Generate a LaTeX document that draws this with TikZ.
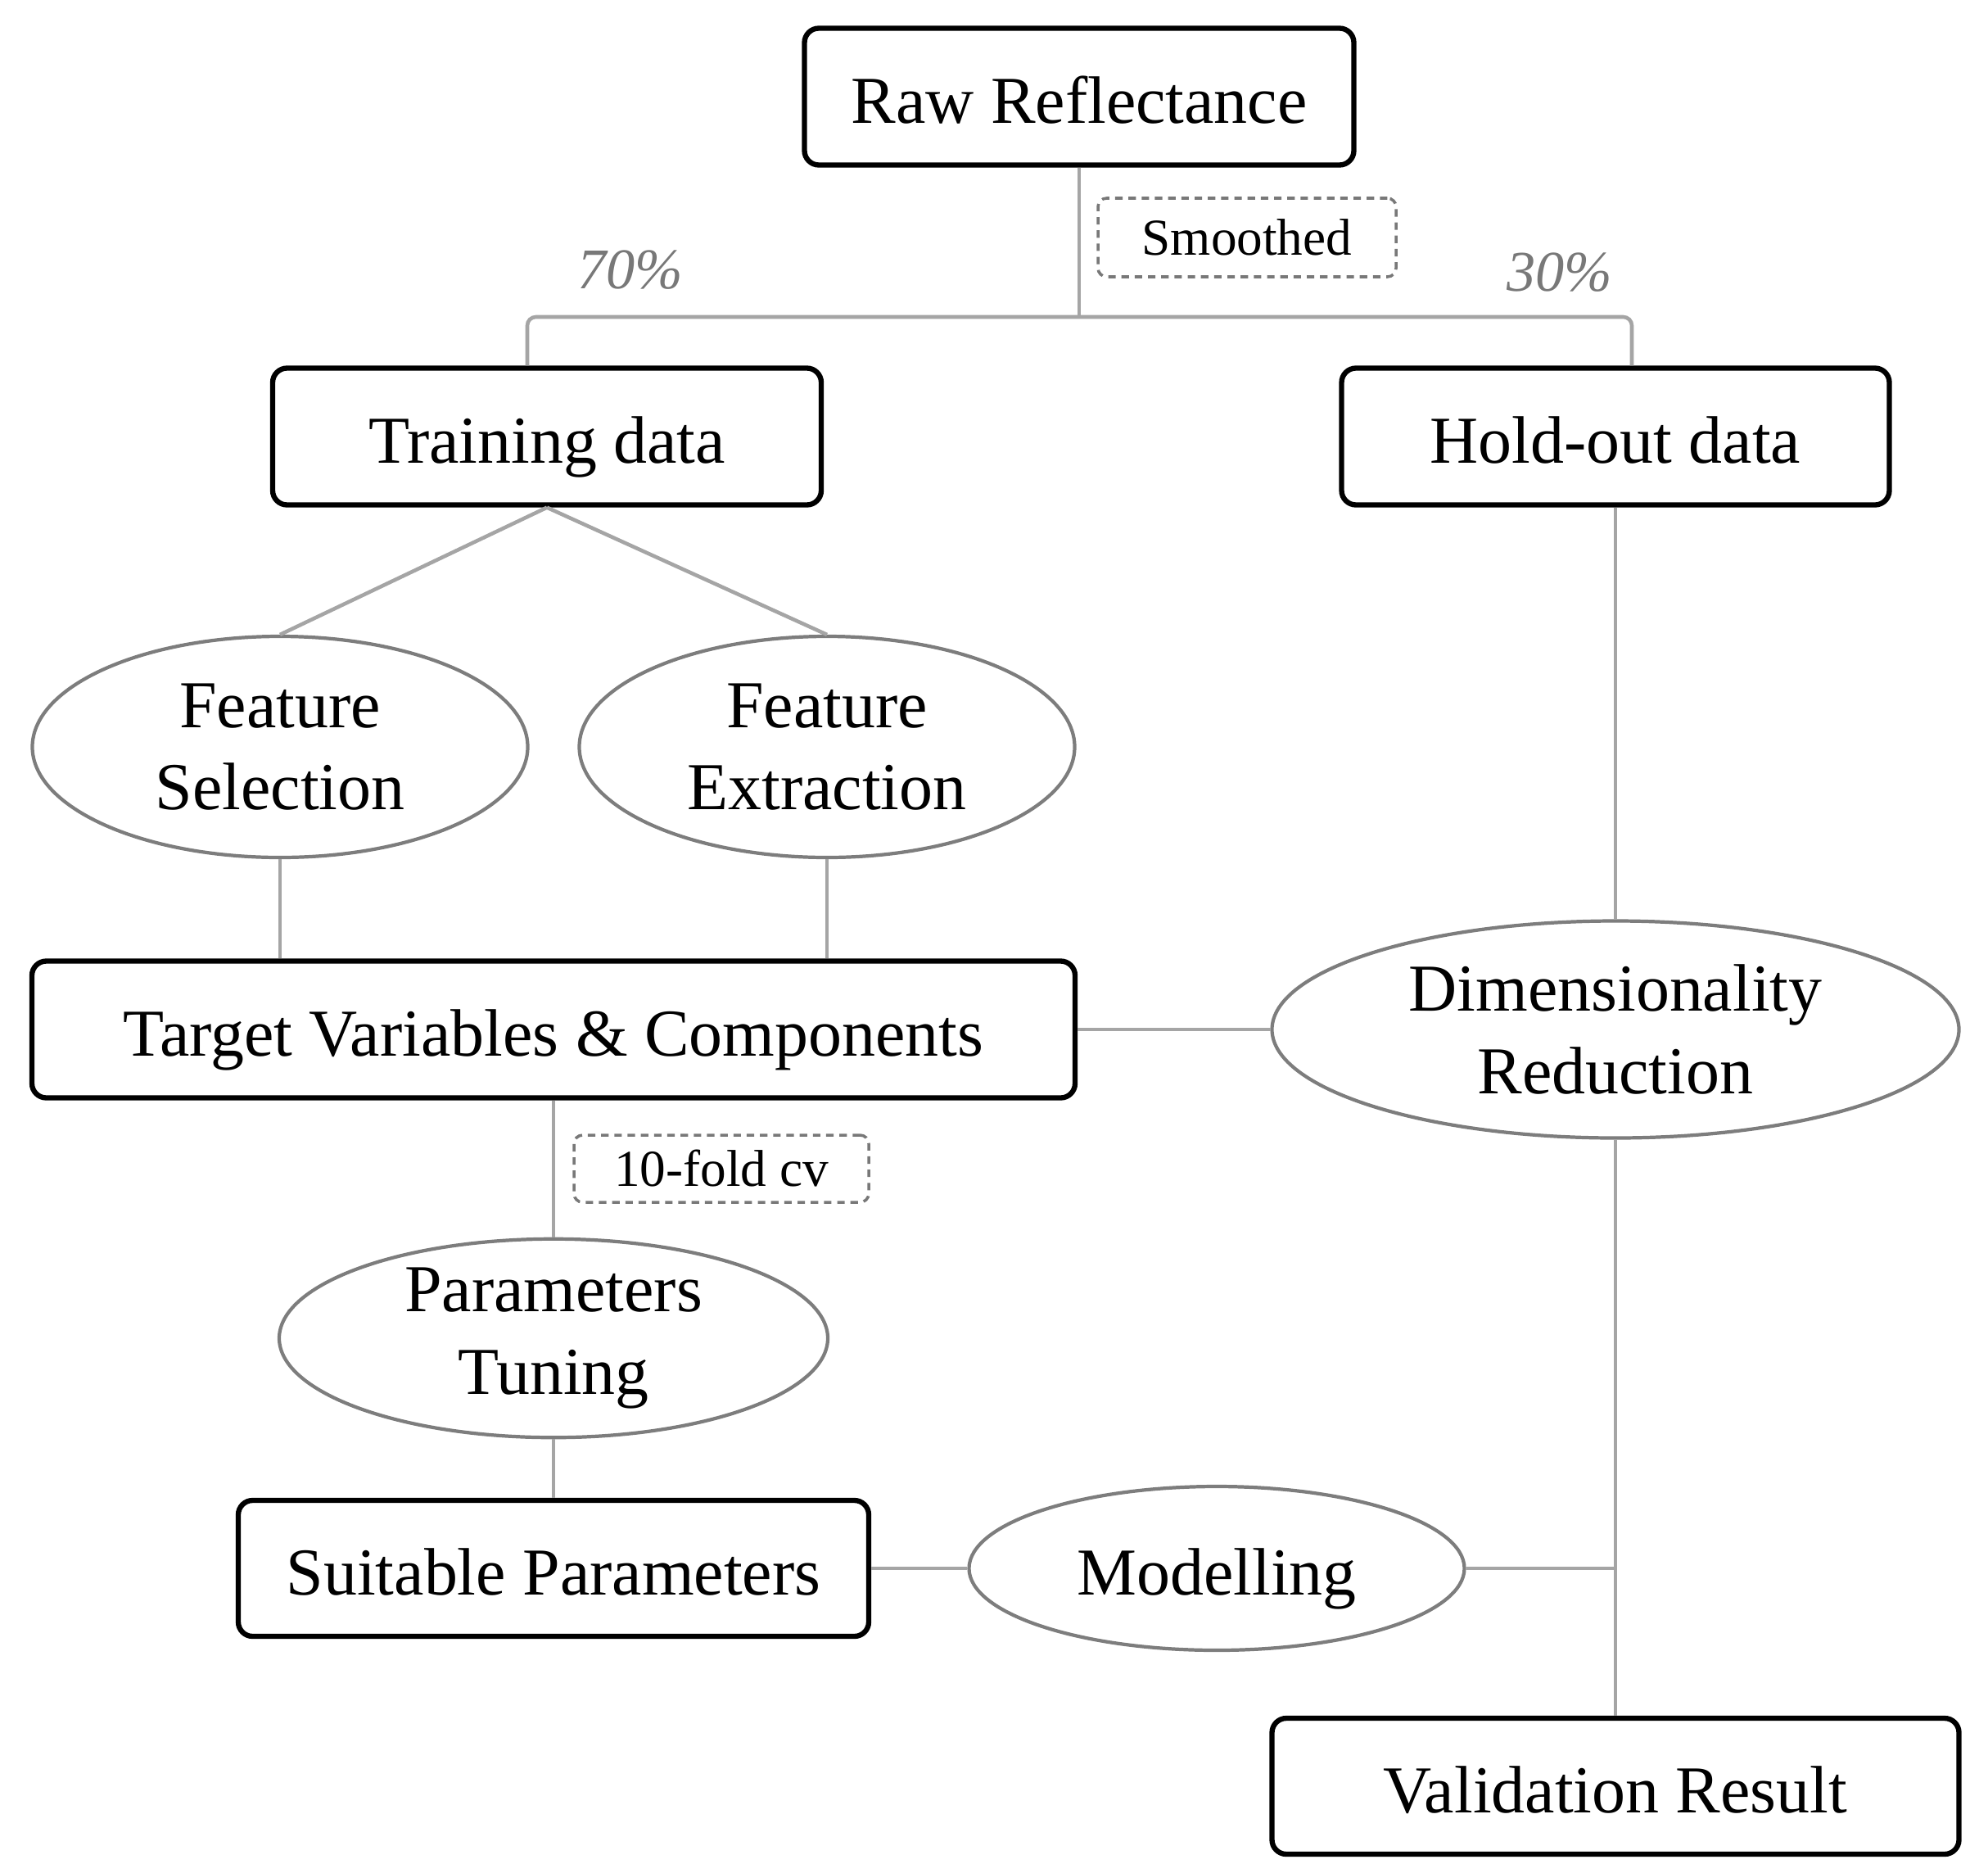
\documentclass[tikz,border=0pt]{standalone}
\usepackage{fontspec}
\setmainfont{Liberation Serif}
\usetikzlibrary{shapes.geometric,calc}
\definecolor{linegray}{RGB}{165,165,165}
\definecolor{ovalgray}{RGB}{125,125,125}
\definecolor{dashgray}{RGB}{120,120,120}

\begin{document}
\begin{tikzpicture}[
	box/.style={draw=black,line width=1.8pt,rounded corners=5pt,minimum height=1.67cm,inner sep=0pt,text height=22pt,text depth=3.4pt,font=\fontsize{23.3}{28.5}\selectfont},
	oval/.style={draw=ovalgray,ellipse,line width=1.2pt,inner sep=0pt,align=center,font=\fontsize{23.3}{28.5}\selectfont},
	note/.style={draw=dashgray,line width=1pt,dash pattern=on 2.6pt off 2pt,rounded corners=3pt,inner sep=0pt,font=\fontsize{18}{22}\selectfont},
	link/.style={draw=linegray,line width=1.3pt},
	pct/.style={text=dashgray,font=\fontsize{20}{24}\selectfont\itshape}]
		\useasboundingbox (0,0) rectangle (24.28,-22.86);
		% boxes
		\node[box,minimum width=6.71cm] (raw) at (13.18,-1.18) {Raw Reflectance};
		\node[box,minimum width=6.70cm] (train) at (6.68,-5.33) {Training data};
		\node[box,minimum width=6.69cm] (hold) at (19.73,-5.33) {Hold-out data};
		\node[box,minimum width=12.74cm] (target) at (6.76,-12.57) {Target Variables \& Components};
		\node[box,minimum width=7.70cm,minimum height=1.66cm] (suit) at (6.76,-19.15) {Suitable Parameters};
		\node[box,minimum width=8.39cm,minimum height=1.66cm] (valid) at (19.73,-21.81) {Validation Result};
		% ellipses
		\node[oval,minimum width=6.05cm,minimum height=2.70cm] (fsel) at (3.42,-9.12) {Feature\\ Selection};
		\node[oval,minimum width=6.05cm,minimum height=2.70cm] (fext) at (10.10,-9.12) {Feature\\ Extraction};
		\node[oval,minimum width=8.39cm,minimum height=2.65cm] (dimred) at (19.73,-12.57) {Dimensionality\\ Reduction};
		\node[oval,minimum width=6.70cm,minimum height=2.41cm] (tuning) at (6.76,-16.34) {Parameters\\ Tuning};
		\node[oval,minimum width=6.05cm,minimum height=2.00cm,text height=22pt,text depth=3.4pt] (model) at (14.86,-19.15) {Modelling};
		% dashed notes and split labels
		\node[note,minimum width=3.64cm,minimum height=0.96cm] (smooth) at (15.23,-2.90) {Smoothed};
		\node[note,minimum width=3.60cm,minimum height=0.82cm] (cv) at (8.81,-14.27) {10-fold cv};
		\node[pct] (ptrain) at (7.70,-3.30) {70\%};
		\node[pct] (phold) at (19.05,-3.33) {30\%};
		% connectors
		\coordinate (split) at (13.18,-3.87);
		\draw[link] (raw.south) -- (split);
		\draw[link,rounded corners=3pt] ([xshift=-0.24cm]train.north) |- (split) -| ([xshift=0.2cm]hold.north);
		\draw[link] (train.south) -- (fsel.north);
		\draw[link] (train.south) -- (fext.north);
		\draw[link] (fsel.south) -- (fsel.south |- target.north);
		\draw[link] (fext.south) -- (fext.south |- target.north);
		\draw[link] (target.east) -- (dimred.west);
		\draw[link] (hold.south) -- (dimred.north);
		\draw[link] (dimred.south) -- (valid.north);
		\draw[link] (target.south) -- (tuning.north);
		\draw[link] (tuning.south) -- (suit.north);
		\draw[link] (suit.east) -- (model.west);
		\draw[link] (model.east) -- (model.east -| valid.north);
\end{tikzpicture}
\end{document}
